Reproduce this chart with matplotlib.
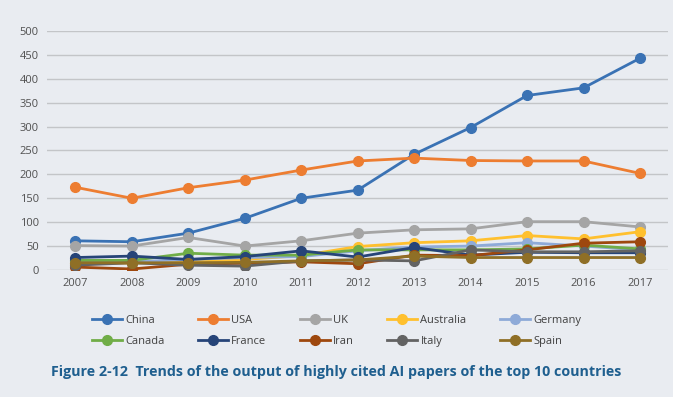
import matplotlib.pyplot as plt

# highly cited AI papers by country
years = list(range(2007, 2018))
china = [61, 59, 77, 108, 150, 167, 242, 298, 365, 381, 443]
usa = [173, 150, 172, 188, 209, 228, 234, 229, 228, 228, 202]
uk = [51, 50, 68, 50, 61, 77, 84, 86, 101, 101, 90]
australia = [15, 14, 18, 22, 30, 49, 57, 61, 72, 65, 80]
germany = [18, 17, 22, 26, 28, 40, 48, 50, 57, 50, 42]
canada = [20, 20, 35, 31, 31, 42, 42, 42, 44, 52, 44]
france = [26, 29, 22, 28, 40, 27, 47, 31, 37, 36, 36]
iran = [6, 2, 12, 14, 17, 13, 31, 30, 42, 56, 59]
italy = [10, 15, 10, 8, 19, 21, 19, 42, 38, 38, 40]
spain = [15, 15, 15, 16, 19, 21, 29, 26, 26, 26, 26]

countries = ["China", "USA", "UK", "Australia", "Germany",
             "Canada", "France", "Iran", "Italy", "Spain"]
series = [china, usa, uk, australia, germany, canada, france, iran, italy, spain]
colors = ["#3a72b4", "#ed7d31", "#a5a5a5", "#ffc02e", "#8eaad8",
          "#70ad47", "#264478", "#9e480e", "#636363", "#8f6f26"]

bg = "#e9ecf1"
plt.rcParams['font.family'] = ['Open Sans', 'DejaVu Sans']

fig = plt.figure(figsize=(6.73, 3.97), dpi=100, facecolor=bg)
ax = fig.add_axes([0.07, 0.32, 0.923, 0.602])
ax.set_facecolor(bg)

lines = []
for name, vals, c in zip(countries, series, colors):
    ln, = ax.plot(years, vals, marker='o', color=c, lw=2, markersize=7, label=name)
    lines.append(ln)

ax.set_xlim(2006.5, 2017.5)
ax.set_ylim(0, 500)
ax.set_yticks(range(0, 501, 50))
ax.set_xticks(years)
ax.grid(axis='y', color='#c3c5c8', lw=1)
ax.set_axisbelow(True)
for s in ax.spines.values():
    s.set_visible(False)
ax.tick_params(length=0, labelsize=8, labelcolor='#505050', pad=6)

# legend fills by column, so interleave the two rows
order = [0, 5, 1, 6, 2, 7, 3, 8, 4, 9]
fig.legend([lines[i] for i in order], [countries[i] for i in order],
           loc='center', bbox_to_anchor=(0.5, 0.166), ncol=5, frameon=False,
           fontsize=8, labelcolor='#404040', handlelength=2.7,
           columnspacing=3.0, handletextpad=0.3, labelspacing=0.85)

fig.text(0.5, 0.063, "Figure 2-12  Trends of the output of highly cited AI papers of the top 10 countries",
         ha='center', va='center', fontsize=10.3, fontweight='bold', color='#1f5f8f')

fig.savefig("out.png", dpi=100, facecolor=bg)
